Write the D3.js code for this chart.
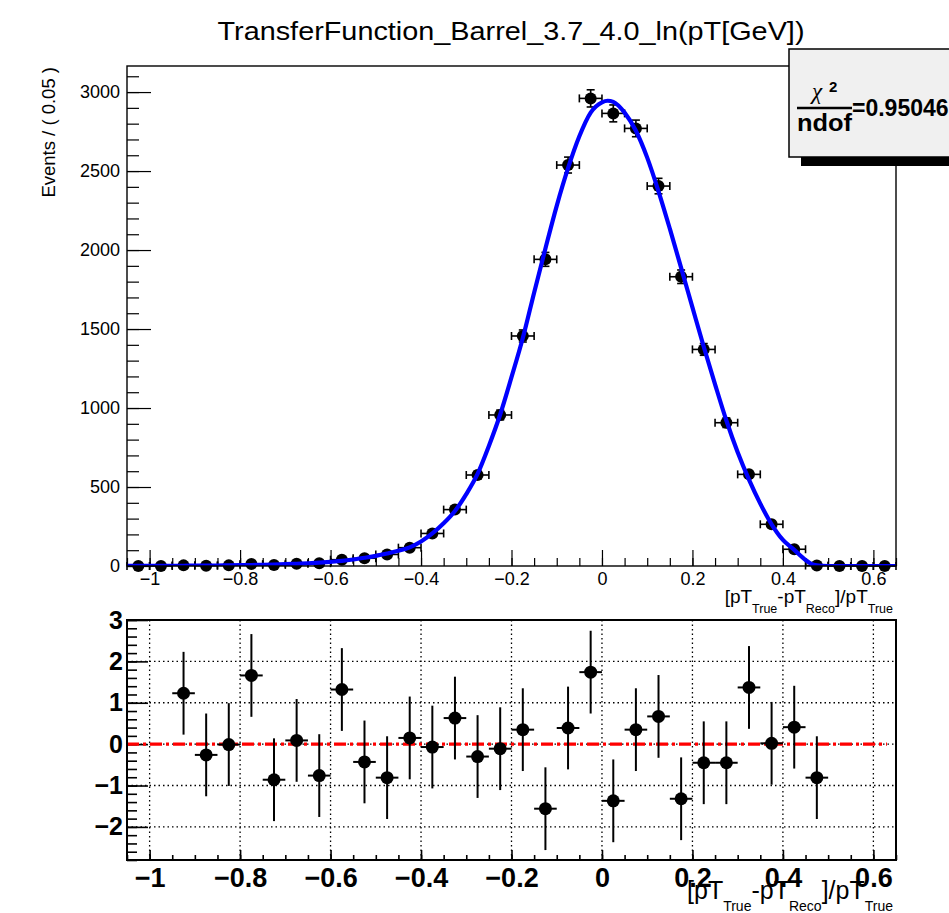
<!DOCTYPE html>
<html><head><meta charset="utf-8">
<script src="https://cdn.jsdelivr.net/npm/d3@7"></script>
<style>
body{margin:0;background:#fff}
svg{display:block}
text{font-family:"Liberation Sans",Arial,Helvetica,sans-serif;fill:#000}
</style>
</head><body>
<svg id="c" width="949" height="913"></svg>
<script>
// ---------------- data ----------------
const title = "TransferFunction_Barrel_3.7_4.0_ln(pT[GeV])";
const yTitle = "Events / ( 0.05 )";
const chi2Value = "=0.95046";

const binCenters = [-1.025,-0.975,-0.925,-0.875,-0.825,-0.775,-0.725,-0.675,-0.625,-0.575,
  -0.525,-0.475,-0.425,-0.375,-0.325,-0.275,-0.225,-0.175,-0.125,-0.075,-0.025,
  0.025,0.075,0.125,0.175,0.225,0.275,0.325,0.375,0.425,0.475,0.525,0.575,0.625];
const counts = [0,0,4,2,4,12,7,14,18,40,
  49,73,116,206,357,576,956,1456,1941,2538,2960,
  2865,2770,2405,1831,1371,907,580,264,106,3,0,0,0];

const pullCenters = [-0.925,-0.875,-0.825,-0.775,-0.725,-0.675,-0.625,-0.575,-0.525,-0.475,
  -0.425,-0.375,-0.325,-0.275,-0.225,-0.175,-0.125,-0.075,-0.025,0.025,
  0.075,0.125,0.175,0.225,0.275,0.325,0.375,0.425,0.475];
const pulls = [1.23,-0.26,-0.01,1.66,-0.86,0.09,-0.76,1.32,-0.43,-0.81,
  0.15,-0.07,0.63,-0.30,-0.11,0.35,-1.56,0.39,1.74,-1.37,
  0.35,0.67,-1.32,-0.45,-0.45,1.37,0.02,0.41,-0.81];

const fitX = [-1.05,-1.025,-1.0,-0.975,-0.95,-0.925,-0.9,-0.875,-0.85,-0.825,-0.8,-0.775,-0.75,-0.725,-0.7,
  -0.675,-0.65,-0.625,-0.6,-0.575,-0.55,-0.525,-0.5,-0.475,-0.45,-0.425,-0.4,-0.375,-0.35,-0.325,-0.3,
  -0.275,-0.25,-0.225,-0.2,-0.175,-0.15,-0.125,-0.1,-0.075,-0.05,-0.025,0.0,0.0125,0.025,0.05,0.075,
  0.1,0.125,0.15,0.175,0.2,0.225,0.25,0.275,0.3,0.325,0.35,0.375,0.4,0.425,0.45,0.4625,0.475,0.4875,0.5,0.55,0.6,0.65];
const fitY = [0.3,0.4,0.6,0.8,1.1,1.5,2.0,2.5,3.2,4.0,5.0,6.2,7.5,9.0,11.3,
  14,17,21,26,32,41,52,64,79,96,118,155,206,270,348,455,
  583,760,959,1195,1443,1730,2010,2280,2518,2720,2870,2935,2945,2938,2870,2755,
  2585,2372,2135,1887,1637,1388,1150,921,720,547,395,264,165,102,38,14,4,1,0,0,0,0];

const xTickVals = [-1,-0.8,-0.6,-0.4,-0.2,0,0.2,0.4,0.6];
const yTickVals = [0,500,1000,1500,2000,2500,3000];
const pullTickVals = [-2,-1,0,1,2,3];
const halfBin = 0.025;

// ---------------- layout ----------------
const svg = d3.select("#c");
const L = 127, R = 896;
const x = d3.scaleLinear().domain([-1.05,0.65]).range([L,R]);
const y = d3.scaleLinear().domain([0,3165]).range([566,66]);
const yp = d3.scaleLinear().domain([-2.8,3.0]).range([860,620]);
const fmt = d3.format("~g");

svg.append("rect").attr("width",949).attr("height",913).attr("fill","#fff");

svg.append("text").attr("x",511).attr("y",40).attr("text-anchor","middle")
  .style("font-size","26px").attr("textLength",587).attr("lengthAdjust","spacingAndGlyphs").text(title);

// ---------------- upper panel ----------------
const up = svg.append("g");
svg.append("clipPath").attr("id","clipU").append("rect").attr("x",L).attr("y",66).attr("width",R-L).attr("height",500);

const minorX = d3.range(-1.05,0.651,0.05).map(v=>+v.toFixed(3));
up.append("g").attr("transform","translate(0,566)")
  .call(d3.axisBottom(x).tickValues(minorX).tickSize(-8).tickFormat(""))
  .call(g=>g.select(".domain").remove());
up.append("g").attr("transform","translate(0,566)")
  .call(d3.axisBottom(x).tickValues(xTickVals).tickSize(-16).tickPadding(6).tickFormat(fmt))
  .call(g=>g.select(".domain").remove())
  .call(g=>g.selectAll("text").style("font-size","18px").attr("font-family",null));
const minorY = d3.range(0,3101,100);
up.append("g").attr("transform",`translate(${L},0)`)
  .call(d3.axisLeft(y).tickValues(minorY).tickSize(-12).tickFormat(""))
  .call(g=>g.select(".domain").remove());
up.append("g").attr("transform",`translate(${L},0)`)
  .call(d3.axisLeft(y).tickValues(yTickVals).tickSize(-24).tickPadding(7).tickFormat(d3.format("d")))
  .call(g=>g.select(".domain").remove())
  .call(g=>g.selectAll("text").style("font-size","18px").attr("font-family",null));
up.selectAll(".tick line").attr("stroke","#000").attr("stroke-width",1.2);

up.append("text").attr("transform",`translate(55,67) rotate(-90)`).attr("text-anchor","end")
  .style("font-size","18.5px").text(yTitle);

function axTitle(g, xEnd, yBase, big, small, dsub){
  const tx = g.append("text").attr("x",xEnd).attr("y",yBase).attr("text-anchor","end").style("font-size",big+"px");
  const parts = [["[pT",0],["True",1],["-pT",0],["Reco",1],["]/pT",0],["True",1]];
  let cur = 0;
  parts.forEach(([s,sub])=>{
    const target = sub ? dsub : 0;
    tx.append("tspan").attr("dy", target-cur).style("font-size",(sub?small:big)+"px").text(s);
    cur = target;
  });
  return tx;
}
axTitle(up, 893, 603, 19, 12.5, 10);

const pts = up.append("g");
binCenters.forEach((c,i)=>{
  const n = counts[i];
  const cx = x(c), cy = y(n);
  const e = Math.sqrt(n);
  pts.append("line").attr("x1",x(c-halfBin)).attr("x2",x(c+halfBin)).attr("y1",cy).attr("y2",cy).attr("stroke","#000").attr("stroke-width",1.6);
  [c-halfBin,c+halfBin].forEach(xe=>{
    pts.append("line").attr("x1",x(xe)).attr("x2",x(xe)).attr("y1",cy-4).attr("y2",cy+4).attr("stroke","#000").attr("stroke-width",1.6);
  });
  if(n>0){
    pts.append("line").attr("x1",cx).attr("x2",cx).attr("y1",y(n-e)).attr("y2",y(n+e)).attr("stroke","#000").attr("stroke-width",1.6);
    [n-e,n+e].forEach(ye=>{
      pts.append("line").attr("x1",cx-4).attr("x2",cx+4).attr("y1",y(ye)).attr("y2",y(ye)).attr("stroke","#000").attr("stroke-width",1.6);
    });
  }
  pts.append("circle").attr("cx",cx).attr("cy",cy).attr("r",6).attr("fill","#000");
});

const fitData = fitX.map((v,i)=>[v,fitY[i]]);
up.append("path").attr("clip-path","url(#clipU)")
  .attr("d", d3.line().x(d=>x(d[0])).y(d=>y(d[1])).curve(d3.curveMonotoneX)(fitData))
  .attr("fill","none").attr("stroke","#0000ff").attr("stroke-width",4.2).attr("stroke-linejoin","round");

up.append("rect").attr("x",L).attr("y",66).attr("width",R-L).attr("height",500)
  .attr("fill","none").attr("stroke","#000").attr("stroke-width",1.4);

// ---------------- lower panel ----------------
const lo = svg.append("g");
xTickVals.forEach(v=>{
  lo.append("line").attr("x1",x(v)).attr("x2",x(v)).attr("y1",620).attr("y2",860)
    .attr("stroke","#000").attr("stroke-width",1.3).attr("stroke-dasharray","1.5,3");
});
pullTickVals.forEach(v=>{
  lo.append("line").attr("x1",L).attr("x2",R).attr("y1",yp(v)).attr("y2",yp(v))
    .attr("stroke","#000").attr("stroke-width",1.3).attr("stroke-dasharray","1.5,3");
});
lo.append("g").attr("transform","translate(0,860)")
  .call(d3.axisBottom(x).tickValues(minorX).tickSize(-5).tickFormat(""))
  .call(g=>g.select(".domain").remove());
lo.append("g").attr("transform","translate(0,860)")
  .call(d3.axisBottom(x).tickValues(xTickVals).tickSize(-10).tickPadding(8).tickFormat(fmt))
  .call(g=>g.select(".domain").remove())
  .call(g=>g.selectAll("text").style("font-size","27px").style("font-weight","bold").attr("font-family",null));
const minorP = d3.range(-2.8,3.001,0.2).map(v=>+v.toFixed(2));
lo.append("g").attr("transform",`translate(${L},0)`)
  .call(d3.axisLeft(yp).tickValues(minorP).tickSize(-10).tickFormat(""))
  .call(g=>g.select(".domain").remove());
lo.append("g").attr("transform",`translate(${L},0)`)
  .call(d3.axisLeft(yp).tickValues(pullTickVals).tickSize(-21).tickPadding(4).tickFormat(fmt))
  .call(g=>g.select(".domain").remove())
  .call(g=>g.selectAll("text").style("font-size","25px").style("font-weight","bold").attr("font-family",null));
lo.selectAll(".tick line").attr("stroke","#000").attr("stroke-width",1.6);

lo.append("line").attr("x1",x(-1.05)).attr("x2",x(0.63)).attr("y1",yp(0)).attr("y2",yp(0))
  .attr("stroke","#ff0000").attr("stroke-width",3.2).attr("stroke-dasharray","12,4,3,4");

pullCenters.forEach((c,i)=>{
  const p = pulls[i], cx = x(c), cy = yp(p);
  lo.append("line").attr("x1",cx).attr("x2",cx).attr("y1",yp(p-1)).attr("y2",yp(p+1)).attr("stroke","#000").attr("stroke-width",2);
  lo.append("line").attr("x1",x(c-halfBin)).attr("x2",x(c+halfBin)).attr("y1",cy).attr("y2",cy).attr("stroke","#000").attr("stroke-width",2);
  lo.append("circle").attr("cx",cx).attr("cy",cy).attr("r",6.5).attr("fill","#000");
});

lo.append("rect").attr("x",L).attr("y",620).attr("width",R-L).attr("height",240)
  .attr("fill","none").attr("stroke","#000").attr("stroke-width",2);

axTitle(lo, 893, 899, 25, 14, 12);

// ---------------- chi2 box ----------------
const bx = svg.append("g");
bx.append("rect").attr("x",801).attr("y",157).attr("width",200).attr("height",9).attr("fill","#000");
bx.append("rect").attr("x",789).attr("y",49).attr("width",220).attr("height",108)
  .attr("fill","#f0f0f0").attr("stroke","#000").attr("stroke-width",1.5);
bx.append("text").attr("x",812).attr("y",99).style("font-size","23px").style("font-style","italic")
  .attr("font-family","Liberation Serif").style("font-family","'Liberation Serif',serif").text("\u03c7");
bx.append("text").attr("x",829).attr("y",92).style("font-size","15px").style("font-weight","bold").text("2");
bx.append("line").attr("x1",797).attr("x2",852).attr("y1",108).attr("y2",108).attr("stroke","#000").attr("stroke-width",2.5);
bx.append("text").attr("x",797).attr("y",131).style("font-size","23px").style("font-weight","bold")
  .attr("textLength",55).attr("lengthAdjust","spacingAndGlyphs").text("ndof");
bx.append("text").attr("x",852).attr("y",116).style("font-size","23px").style("font-weight","bold").text(chi2Value);
</script>
</body></html>
